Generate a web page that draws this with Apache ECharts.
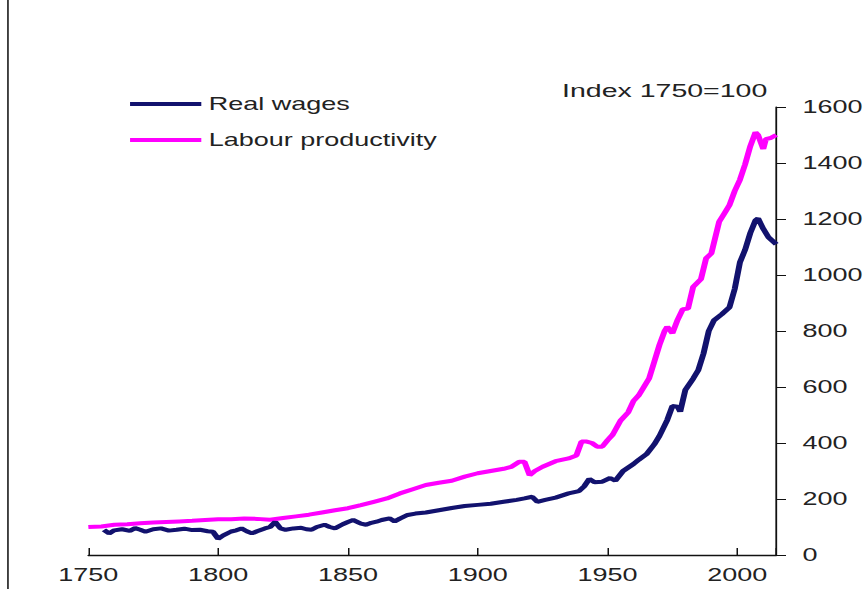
<!DOCTYPE html>
<html>
<head>
<meta charset="utf-8">
<script src="https://cdn.jsdelivr.net/npm/echarts@6/dist/echarts.min.js"></script>
<style>
  html, body { margin: 0; padding: 0; background: #fff; overflow: hidden; }
  /* the source picture is stretched sideways, so the chart is drawn narrow and widened */
  #main {
    width: 577.33px;
    height: 589px;
    transform: scaleX(1.5);
    transform-origin: 0 0;
  }
</style>
</head>
<body>
<div id="main"></div>
<script>
// Labour productivity, index 1750=100
var prodYears = [1750, 1755, 1760, 1765, 1770, 1775, 1780, 1785, 1790, 1795, 1800, 1805, 1810, 1815, 1820,
  1825, 1830, 1835, 1840, 1845, 1850, 1855, 1860, 1865, 1870, 1875, 1880, 1885, 1890, 1895, 1900, 1905,
  1910, 1913, 1916, 1918, 1920, 1922, 1925, 1930, 1935, 1938, 1940, 1942, 1944, 1946, 1948, 1950, 1952,
  1955, 1958, 1960, 1962, 1964, 1966, 1968, 1970, 1972, 1973, 1975, 1977, 1979, 1981, 1983, 1986, 1988,
  1990, 1993, 1995, 1997, 1999, 2001, 2003, 2005, 2007, 2008, 2010, 2011, 2013, 2015]
var prodValues = [100, 102, 108, 110, 113, 116, 118, 120, 122, 125, 128, 128, 130, 129, 126,
  132, 138, 144, 152, 160, 167, 178, 190, 202, 220, 235, 250, 258, 265, 280, 292, 300,
  308, 315, 333, 333, 285, 300, 315, 335, 345, 355, 405, 405, 400, 387, 387, 410, 430,
  480, 510, 550, 570, 600, 630, 690, 750, 800, 815, 792, 840, 878, 880, 958, 985, 1060,
  1077, 1190, 1220, 1250, 1300, 1340, 1395, 1460, 1510, 1500, 1450, 1485, 1490, 1500]

// Real wages, index 1750=100
var wageYears = [1756, 1758, 1760, 1763, 1766, 1768, 1770, 1772, 1775, 1778, 1781, 1784, 1787, 1790, 1793,
  1796, 1798, 1800, 1802, 1805, 1807, 1809, 1811, 1813, 1815, 1818, 1820, 1822, 1824, 1826, 1829, 1832,
  1834, 1836, 1838, 1841, 1843, 1845, 1848, 1850, 1852, 1855, 1857, 1859, 1861, 1863, 1866, 1868, 1870,
  1873, 1876, 1880, 1885, 1890, 1895, 1900, 1905, 1910, 1915, 1918, 1921, 1923, 1926, 1930, 1935, 1939,
  1941, 1943, 1945, 1948, 1951, 1953, 1956, 1960, 1962, 1965, 1968, 1970, 1973, 1975, 1977, 1978, 1980,
  1983, 1985, 1987, 1989, 1991, 1994, 1997, 1999, 2001, 2003, 2005, 2007, 2008, 2010, 2012, 2015]
var wageValues = [90, 77, 88, 92, 86, 96, 90, 83, 92, 95, 87, 90, 94, 89, 90,
  85, 83, 58, 70, 84, 88, 95, 85, 77, 85, 95, 100, 118, 95, 90, 95, 97,
  92, 90, 100, 108, 100, 95, 110, 118, 125, 112, 108, 115, 119, 125, 131, 120, 130,
  143, 148, 152, 160, 168, 175, 179, 183, 190, 197, 202, 208, 190, 197, 205, 220, 228,
  245, 272, 260, 262, 275, 265, 300, 325, 340, 360, 395, 425, 482, 532, 530, 512, 590,
  630, 661, 720, 800, 838, 860, 885, 950, 1045, 1090, 1150, 1195, 1202, 1165, 1135, 1110]

var seriesNames = ['Real wages', 'Labour productivity']

function pairs(xs, ys) {
  return xs.map(function (x, i) { return [x, ys[i]] })
}

var font = '"Liberation Sans", Arial, sans-serif'
var chart = echarts.init(document.getElementById('main'), null, { renderer: 'svg' })

chart.setOption({
  animation: false,
  backgroundColor: '#fff',
  grid: { left: 58.9, right: 59.5, top: 107, bottom: 34, outerBoundsMode: 'none' },
  legend: {
    data: seriesNames,
    orient: 'vertical',
    left: 81.7,
    top: 90,
    icon: 'rect',
    itemWidth: 47.5,
    itemHeight: 4,
    itemGap: 18,
    textStyle: { fontFamily: font, fontSize: 18, color: '#222' }
  },
  xAxis: {
    type: 'value',
    min: 1750,
    max: 2015,
    interval: 50,
    splitLine: { show: false },
    axisLine: { lineStyle: { color: '#111', width: 1.3 } },
    axisTick: { inside: true, length: 7, lineStyle: { color: '#111', width: 1 } },
    axisLabel: {
      margin: 11,
      fontFamily: font,
      fontSize: 18,
      color: '#222',
      formatter: function (v) { return v % 50 === 0 ? String(v) : '' }
    }
  },
  yAxis: {
    type: 'value',
    position: 'right',
    min: 0,
    max: 1600,
    interval: 200,
    splitLine: { show: false },
    axisLine: { show: true, lineStyle: { color: '#111', width: 1.2 } },
    axisTick: { show: true, length: 6.5, lineStyle: { color: '#111', width: 1 } },
    axisLabel: {
      margin: 17.5,
      fontFamily: font,
      fontSize: 18,
      color: '#222',
      formatter: function (v) { return String(v) }
    }
  },
  graphic: [
    {
      type: 'text',
      left: 374.7,
      top: 81,
      style: { text: 'Index 1750=100', font: '19px ' + font, fill: '#222' }
    },
    {
      type: 'rect',
      shape: { x: 4.7, y: 0, width: 1.2, height: 589 },
      style: { fill: '#333' }
    }
  ],
  series: [
    {
      name: seriesNames[1],
      type: 'line',
      data: pairs(prodYears, prodValues),
      symbol: 'none',
      color: '#ff00ff',
      lineStyle: { width: 4, color: '#ff00ff' }
    },
    {
      name: seriesNames[0],
      type: 'line',
      data: pairs(wageYears, wageValues),
      symbol: 'none',
      color: '#12126e',
      lineStyle: { width: 4, color: '#12126e' }
    }
  ]
})
</script>
</body>
</html>
